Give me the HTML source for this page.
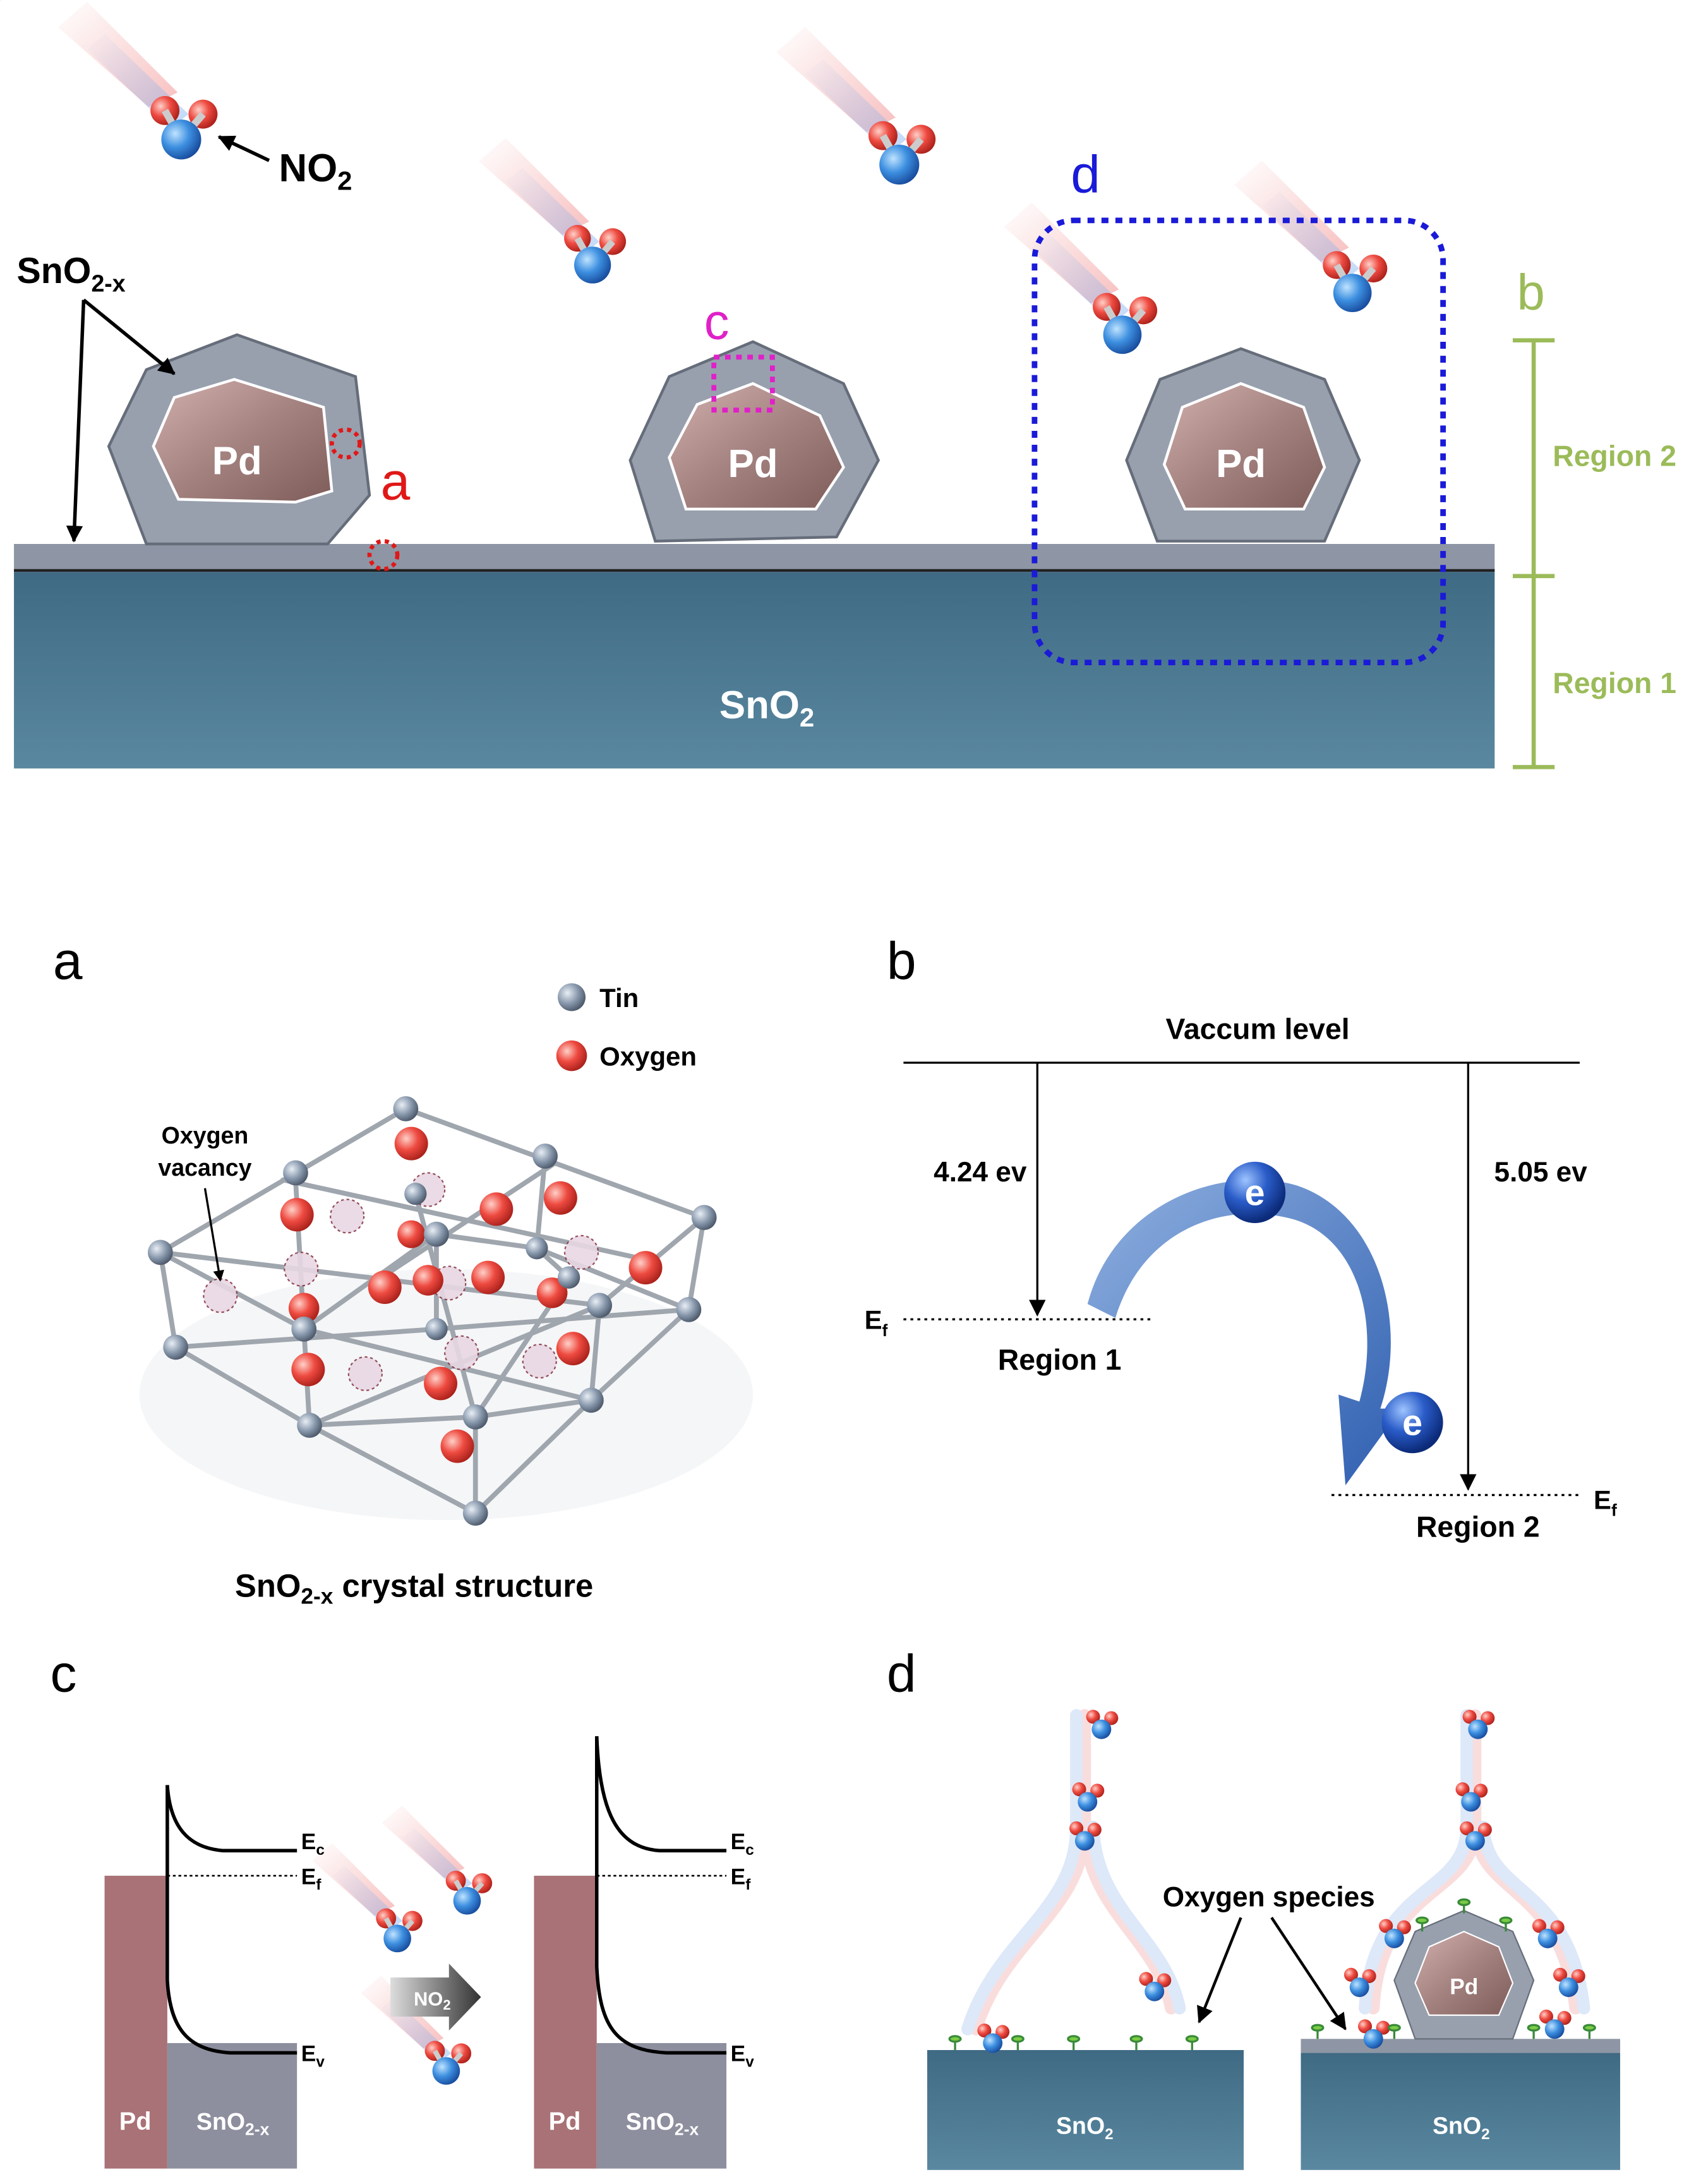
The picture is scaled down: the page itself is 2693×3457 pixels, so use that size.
<!DOCTYPE html>
<html><head><meta charset="utf-8"><style>
html,body{margin:0;padding:0;background:#fff;}
svg{display:block;}
text{font-family:"Liberation Sans",Arial,sans-serif;}
</style></head><body>
<svg width="2693" height="3457" viewBox="0 0 1220 1566" xmlns="http://www.w3.org/2000/svg">
<defs>
  <radialGradient id="bl" cx="35%" cy="35%" r="70%"><stop offset="0" stop-color="#bfe3ff"/><stop offset="0.5" stop-color="#3d8fe0"/><stop offset="1" stop-color="#174a9c"/></radialGradient>
  <radialGradient id="rd" cx="35%" cy="35%" r="70%"><stop offset="0" stop-color="#ffd0c8"/><stop offset="0.5" stop-color="#ee4a40"/><stop offset="1" stop-color="#a8201a"/></radialGradient>
  <radialGradient id="gy" cx="35%" cy="35%" r="70%"><stop offset="0" stop-color="#e8eef5"/><stop offset="0.55" stop-color="#8898ac"/><stop offset="1" stop-color="#4a5668"/></radialGradient>
  <radialGradient id="el" cx="35%" cy="30%" r="70%"><stop offset="0" stop-color="#9ec4ff"/><stop offset="0.5" stop-color="#2a5cc8"/><stop offset="1" stop-color="#0b2a78"/></radialGradient>
  <linearGradient id="sub" x1="0" y1="0" x2="0" y2="1"><stop offset="0" stop-color="#3f6a84"/><stop offset="1" stop-color="#5a88a0"/></linearGradient>
  <linearGradient id="core" x1="0" y1="0" x2="1" y2="1"><stop offset="0" stop-color="#d2b0ae"/><stop offset="0.5" stop-color="#a48280"/><stop offset="1" stop-color="#7e5c5a"/></linearGradient>
  <linearGradient id="arc" x1="0" y1="0" x2="1" y2="1"><stop offset="0" stop-color="#8fb0e0"/><stop offset="1" stop-color="#2f5fb0"/></linearGradient>
  <linearGradient id="no2a" x1="0" y1="0" x2="1" y2="0"><stop offset="0" stop-color="#ddd"/><stop offset="1" stop-color="#333"/></linearGradient>
  <linearGradient id="trR" x1="1" y1="1" x2="0" y2="0"><stop offset="0" stop-color="#f08080" stop-opacity="0.5"/><stop offset="1" stop-color="#f08080" stop-opacity="0"/></linearGradient>
  <linearGradient id="trB" x1="1" y1="1" x2="0" y2="0"><stop offset="0" stop-color="#80b0f0" stop-opacity="0.5"/><stop offset="1" stop-color="#80b0f0" stop-opacity="0"/></linearGradient>
  <g id="mol">
    <path d="M-18,-18 L-68,-62 L-52,-76 L-2,-26 Z" fill="url(#trR)"/>
    <path d="M-6,-6 L-52,-50 L-42,-58 L4,-14 Z" fill="url(#trB)"/>
    <circle cx="-9" cy="-16" r="8" fill="url(#rd)"/>
    <circle cx="12" cy="-14" r="8" fill="url(#rd)"/>
    <line x1="-9" y1="-16" x2="0" y2="0" stroke="#ccc" stroke-width="4"/><line x1="12" y1="-14" x2="0" y2="0" stroke="#ccc" stroke-width="4"/>
    <circle cx="0" cy="0" r="11" fill="url(#bl)"/>
  </g>
  <g id="smol">
    <circle cx="-6" cy="-9" r="5" fill="url(#rd)"/><circle cx="7" cy="-8" r="5" fill="url(#rd)"/>
    <circle cx="0" cy="0" r="7" fill="url(#bl)"/>
  </g>
  <marker id="ah" markerWidth="8" markerHeight="8" refX="7" refY="4" orient="auto" markerUnits="userSpaceOnUse"><path d="M0,0 L8,4 L0,8 z" fill="#000"/></marker>
  <marker id="ahb" markerWidth="12" markerHeight="12" refX="11" refY="6" orient="auto" markerUnits="userSpaceOnUse"><path d="M0,0 L12,6 L0,12 z" fill="#000"/></marker>
</defs>

<!-- ===== TOP PANEL ===== -->
<rect x="10" y="410" width="1062" height="141" fill="url(#sub)"/>
<rect x="10" y="390" width="1062" height="20" fill="#8e96a5"/>
<line x1="10" y1="409" x2="1072" y2="409" stroke="#222" stroke-width="2"/>
<path d="M170,240 L255,270 L265,355 L235,390 L105,390 L78,320 L105,265 Z" fill="#98a0ae" stroke="#666d7a" stroke-width="2"/>
<path d="M168,272 L232,292 L238,352 L212,360 L128,358 L110,320 L125,285 Z" fill="url(#core)" stroke="#fff" stroke-width="2"/>
<path d="M540,245 L605,275 L630,330 L600,385 L470,388 L452,330 L480,270 Z" fill="#98a0ae" stroke="#666d7a" stroke-width="2"/>
<path d="M540,275 L588,298 L605,335 L585,365 L492,365 L480,328 L500,290 Z" fill="url(#core)" stroke="#fff" stroke-width="2"/>
<path d="M890,250 L950,272 L975,330 L950,388 L830,388 L808,330 L832,272 Z" fill="#98a0ae" stroke="#666d7a" stroke-width="2"/>
<path d="M890,275 L935,292 L950,335 L935,365 L850,365 L835,333 L848,292 Z" fill="url(#core)" stroke="#fff" stroke-width="2"/>
<g font-weight="bold" font-size="28" fill="#fff" text-anchor="middle">
<text x="170" y="340">Pd</text><text x="540" y="342">Pd</text><text x="890" y="342">Pd</text>
<text x="550" y="515">SnO<tspan font-size="19" dy="6">2</tspan></text>
</g>
<use href="#mol" transform="translate(130,100) scale(1.3)"/>
<use href="#mol" transform="translate(425,190) scale(1.2)"/>
<use href="#mol" transform="translate(645,118) scale(1.3)"/>
<use href="#mol" transform="translate(805,240) scale(1.25)"/>
<use href="#mol" transform="translate(970,210) scale(1.25)"/>
<text x="200" y="130" font-weight="bold" font-size="28">NO<tspan font-size="19" dy="6">2</tspan></text>
<line x1="193" y1="115" x2="157" y2="98" stroke="#000" stroke-width="2.5" marker-end="url(#ahb)"/>
<text x="12" y="203" font-weight="bold" font-size="26">SnO<tspan font-size="17" dy="6">2-x</tspan></text>
<line x1="60" y1="215" x2="125" y2="268" stroke="#000" stroke-width="2.5" marker-end="url(#ahb)"/>
<line x1="60" y1="215" x2="53" y2="388" stroke="#000" stroke-width="2.5" marker-end="url(#ahb)"/>
<rect x="742" y="158" width="293" height="317" rx="28" fill="none" stroke="#1a1ad8" stroke-width="4" stroke-dasharray="5,5"/>
<text x="768" y="138" font-size="38" fill="#1a1ad8">d</text>
<text x="505" y="243" font-size="36" fill="#e020c8">c</text>
<rect x="512" y="256" width="42" height="38" fill="none" stroke="#e020c8" stroke-width="3.5" stroke-dasharray="4,4"/>
<text x="273" y="358" font-size="38" fill="#e01818">a</text>
<circle cx="248" cy="318" r="10" fill="none" stroke="#e01818" stroke-width="3" stroke-dasharray="3,3"/>
<circle cx="275" cy="398" r="10" fill="none" stroke="#e01818" stroke-width="3" stroke-dasharray="3,3"/>
<g stroke="#9bbb59" stroke-width="3">
<line x1="1100" y1="244" x2="1100" y2="550"/>
<line x1="1085" y1="244" x2="1115" y2="244"/><line x1="1085" y1="413" x2="1115" y2="413"/><line x1="1085" y1="550" x2="1115" y2="550"/>
</g>
<g fill="#9bbb59"><text x="1088" y="222" font-size="36">b</text>
<text x="1158" y="334" font-size="21" font-weight="bold" text-anchor="middle">Region 2</text>
<text x="1158" y="497" font-size="21" font-weight="bold" text-anchor="middle">Region 1</text></g>

<!-- ===== PANEL a ===== -->
<text x="38" y="702" font-size="38">a</text>
<circle cx="410" cy="715" r="10" fill="url(#gy)"/><text x="430" y="722" font-size="19" font-weight="bold">Tin</text>
<circle cx="410" cy="757" r="11" fill="url(#rd)"/><text x="430" y="764" font-size="19" font-weight="bold">Oxygen</text>
<ellipse cx="320" cy="1000" rx="220" ry="90" fill="#eef0f2" opacity="0.6"/>
<g stroke="#a0a6ae" stroke-width="3.5" fill="none" stroke-linecap="round">
<!-- top face -->
<path d="M291,795 L115,898 L430,936 L505,873 Z"/>
<path d="M203,846 L467,904 M398,834 L272,917 M313,885 L313,953"/>
<!-- verticals -->
<path d="M115,898 L126,966 M212,846 L218,953 L222,1022 M430,936 L424,1004 M505,873 L494,939 M391,829 L385,895 L408,916 M298,856 L341,1016 L341,1085"/>
<!-- bottom face -->
<path d="M126,966 L222,1022 L341,1085 L424,1004 L494,939 M126,966 L313,953 L494,939 M218,953 L424,1004 M222,1022 L430,936 M341,1016 L408,916 M115,898 L218,953 L313,885 L385,895 L494,939 M222,1022 L341,1016 L424,1004"/>
</g>
<g fill="#e8d8e4" stroke="#8a3a4a" stroke-width="1" stroke-dasharray="2,2" opacity="0.9">
<circle cx="307" cy="853" r="12"/><circle cx="249" cy="872" r="12"/><circle cx="216" cy="910" r="12"/><circle cx="158" cy="929" r="12"/><circle cx="322" cy="920" r="12"/><circle cx="417" cy="898" r="12"/><circle cx="262" cy="985" r="12"/><circle cx="331" cy="970" r="12"/><circle cx="387" cy="976" r="12"/>
</g>
<g>
<circle cx="295" cy="820" r="12" fill="url(#rd)"/><circle cx="213" cy="871" r="12" fill="url(#rd)"/><circle cx="356" cy="867" r="12" fill="url(#rd)"/><circle cx="402" cy="859" r="12" fill="url(#rd)"/><circle cx="295" cy="885" r="10" fill="url(#rd)"/><circle cx="276" cy="923" r="12" fill="url(#rd)"/><circle cx="307" cy="918" r="11" fill="url(#rd)"/><circle cx="350" cy="916" r="12" fill="url(#rd)"/><circle cx="218" cy="938" r="11" fill="url(#rd)"/><circle cx="463" cy="909" r="12" fill="url(#rd)"/><circle cx="396" cy="927" r="11" fill="url(#rd)"/><circle cx="221" cy="982" r="12" fill="url(#rd)"/><circle cx="316" cy="992" r="12" fill="url(#rd)"/><circle cx="411" cy="967" r="12" fill="url(#rd)"/><circle cx="328" cy="1037" r="12" fill="url(#rd)"/>
<circle cx="291" cy="795" r="9" fill="url(#gy)"/><circle cx="212" cy="841" r="9" fill="url(#gy)"/><circle cx="391" cy="829" r="9" fill="url(#gy)"/><circle cx="505" cy="873" r="9" fill="url(#gy)"/><circle cx="115" cy="898" r="9" fill="url(#gy)"/><circle cx="313" cy="885" r="9" fill="url(#gy)"/><circle cx="385" cy="895" r="8" fill="url(#gy)"/><circle cx="430" cy="936" r="9" fill="url(#gy)"/><circle cx="494" cy="939" r="9" fill="url(#gy)"/><circle cx="126" cy="966" r="9" fill="url(#gy)"/><circle cx="218" cy="953" r="9" fill="url(#gy)"/><circle cx="313" cy="953" r="8" fill="url(#gy)"/><circle cx="408" cy="916" r="8" fill="url(#gy)"/><circle cx="424" cy="1004" r="9" fill="url(#gy)"/><circle cx="222" cy="1022" r="9" fill="url(#gy)"/><circle cx="341" cy="1016" r="9" fill="url(#gy)"/><circle cx="341" cy="1085" r="9" fill="url(#gy)"/><circle cx="298" cy="856" r="8" fill="url(#gy)"/>
</g>
<text x="147" y="820" font-size="17" font-weight="bold" text-anchor="middle">Oxygen</text>
<text x="147" y="843" font-size="17" font-weight="bold" text-anchor="middle">vacancy</text>
<line x1="147" y1="852" x2="158" y2="918" stroke="#000" stroke-width="1.5" marker-end="url(#ah)"/>
<text x="297" y="1145" font-size="23" font-weight="bold" text-anchor="middle">SnO<tspan font-size="16" dy="5">2-x</tspan><tspan dy="-5"> crystal structure</tspan></text>

<!-- ===== PANEL b ===== -->
<text x="636" y="702" font-size="38">b</text>
<text x="902" y="745" font-size="21" font-weight="bold" text-anchor="middle">Vaccum level</text>
<line x1="648" y1="762" x2="1133" y2="762" stroke="#000" stroke-width="1.5"/>
<line x1="744" y1="762" x2="744" y2="943" stroke="#000" stroke-width="1.5" marker-end="url(#ahb)"/>
<line x1="1053" y1="762" x2="1053" y2="1068" stroke="#000" stroke-width="1.5" marker-end="url(#ahb)"/>
<text x="703" y="847" font-size="20" font-weight="bold" text-anchor="middle">4.24 ev</text>
<text x="1105" y="847" font-size="20" font-weight="bold" text-anchor="middle">5.05 ev</text>
<line x1="648" y1="946" x2="825" y2="946" stroke="#000" stroke-width="1.5" stroke-dasharray="2,3"/>
<line x1="955" y1="1072" x2="1135" y2="1072" stroke="#000" stroke-width="1.5" stroke-dasharray="2,3"/>
<text x="620" y="953" font-size="19" font-weight="bold">E<tspan font-size="12" dy="5">f</tspan></text>
<text x="1143" y="1082" font-size="19" font-weight="bold">E<tspan font-size="12" dy="5">f</tspan></text>
<text x="760" y="982" font-size="21" font-weight="bold" text-anchor="middle">Region 1</text>
<text x="1060" y="1102" font-size="21" font-weight="bold" text-anchor="middle">Region 2</text>
<path d="M780,935 C800,860 880,835 930,850 C990,870 1010,950 990,1010 L1005,1010 L965,1065 L960,1000 L975,1005 C990,950 975,890 930,875 C880,860 820,880 800,945 Z" fill="url(#arc)"/>
<circle cx="900" cy="855" r="22" fill="url(#el)"/><text x="900" y="864" font-size="26" fill="#fff" font-weight="bold" text-anchor="middle">e</text>
<circle cx="1013" cy="1020" r="22" fill="url(#el)"/><text x="1013" y="1029" font-size="26" fill="#fff" font-weight="bold" text-anchor="middle">e</text>

<!-- ===== PANEL c ===== -->
<text x="36" y="1213" font-size="38">c</text>
<g>
<rect x="75" y="1345" width="45" height="210" fill="#a97276"/>
<rect x="120" y="1465" width="93" height="90" fill="#8d8e9e"/>
<path d="M120,1280 C122,1310 135,1325 160,1327 L213,1327" stroke="#000" stroke-width="2.5" fill="none"/>
<path d="M120,1280 L120,1420 C122,1455 135,1470 165,1472 L213,1472" stroke="#000" stroke-width="2.5" fill="none"/>
<line x1="120" y1="1345" x2="213" y2="1345" stroke="#000" stroke-width="1.2" stroke-dasharray="2,2"/>
<text x="97" y="1527" font-size="18" font-weight="bold" fill="#fff" text-anchor="middle">Pd</text>
<text x="167" y="1527" font-size="17" font-weight="bold" fill="#fff" text-anchor="middle">SnO<tspan font-size="12" dy="4">2-x</tspan></text>
<text x="216" y="1326" font-size="16" font-weight="bold">E<tspan font-size="11" dy="4">c</tspan></text>
<text x="216" y="1351" font-size="16" font-weight="bold">E<tspan font-size="11" dy="4">f</tspan></text>
<text x="216" y="1478" font-size="16" font-weight="bold">E<tspan font-size="11" dy="4">v</tspan></text>
</g>
<g transform="translate(308,0)">
<rect x="75" y="1345" width="45" height="210" fill="#a97276"/>
<rect x="120" y="1465" width="93" height="90" fill="#8d8e9e"/>
<path d="M120,1245 C122,1300 135,1325 165,1327 L213,1327" stroke="#000" stroke-width="2.5" fill="none"/>
<path d="M120,1245 L120,1410 C122,1455 135,1470 170,1472 L213,1472" stroke="#000" stroke-width="2.5" fill="none"/>
<line x1="120" y1="1345" x2="213" y2="1345" stroke="#000" stroke-width="1.2" stroke-dasharray="2,2"/>
<text x="97" y="1527" font-size="18" font-weight="bold" fill="#fff" text-anchor="middle">Pd</text>
<text x="167" y="1527" font-size="17" font-weight="bold" fill="#fff" text-anchor="middle">SnO<tspan font-size="12" dy="4">2-x</tspan></text>
<text x="216" y="1326" font-size="16" font-weight="bold">E<tspan font-size="11" dy="4">c</tspan></text>
<text x="216" y="1351" font-size="16" font-weight="bold">E<tspan font-size="11" dy="4">f</tspan></text>
<text x="216" y="1478" font-size="16" font-weight="bold">E<tspan font-size="11" dy="4">v</tspan></text>
</g>
<use href="#mol" transform="translate(285,1390) scale(0.9)"/>
<use href="#mol" transform="translate(335,1363) scale(0.9)"/>
<use href="#mol" transform="translate(320,1485) scale(0.9)"/>
<path d="M280,1418 L322,1418 L322,1408 L345,1432 L322,1456 L322,1446 L280,1446 Z" fill="url(#no2a)"/>
<text x="310" y="1438" font-size="14" font-weight="bold" fill="#fff" text-anchor="middle">NO<tspan font-size="10" dy="3">2</tspan></text>

<!-- ===== PANEL d ===== -->
<text x="636" y="1213" font-size="38">d</text>
<rect x="665" y="1470" width="227" height="86" fill="url(#sub)"/>
<text x="778" y="1530" font-size="17" font-weight="bold" fill="#fff" text-anchor="middle">SnO<tspan font-size="11" dy="4">2</tspan></text>
<rect x="933" y="1472" width="229" height="84" fill="url(#sub)"/>
<rect x="933" y="1462" width="229" height="10" fill="#8e96a5"/>
<text x="1048" y="1530" font-size="17" font-weight="bold" fill="#fff" text-anchor="middle">SnO<tspan font-size="11" dy="4">2</tspan></text>
<g stroke-width="9" fill="none" opacity="0.35" stroke-linecap="round">
<path d="M778,1230 L778,1310 C778,1370 720,1390 700,1455" stroke="#f0a0a0"/><path d="M778,1310 C780,1370 830,1390 840,1440" stroke="#f0a0a0"/>
<path d="M772,1230 L772,1310 C772,1370 714,1390 694,1455" stroke="#a0c0f0"/><path d="M784,1310 C786,1370 836,1390 846,1440" stroke="#a0c0f0"/>
<path d="M1058,1230 L1058,1310 C1058,1360 990,1350 985,1440" stroke="#f0a0a0"/><path d="M1058,1310 C1060,1360 1120,1350 1130,1440" stroke="#f0a0a0"/>
<path d="M1052,1230 L1052,1310 C1052,1360 984,1350 979,1440" stroke="#a0c0f0"/><path d="M1064,1310 C1066,1360 1126,1350 1136,1440" stroke="#a0c0f0"/>
</g>
<path d="M1050,1370 L1085,1385 L1100,1420 L1085,1462 L1015,1462 L1000,1420 L1015,1385 Z" fill="#98a0ae" stroke="#666d7a"/>
<path d="M1050,1385 L1075,1396 L1085,1422 L1075,1445 L1025,1445 L1015,1422 L1025,1396 Z" fill="url(#core)" stroke="#fff"/>
<text x="1050" y="1430" font-size="16" font-weight="bold" fill="#fff" text-anchor="middle">Pd</text>
<use href="#smol" transform="translate(790,1240)"/><use href="#smol" transform="translate(780,1292)"/><use href="#smol" transform="translate(778,1320)"/>
<use href="#smol" transform="translate(712,1465)"/><use href="#smol" transform="translate(828,1428)"/>
<use href="#smol" transform="translate(1060,1240)"/><use href="#smol" transform="translate(1055,1292)"/><use href="#smol" transform="translate(1058,1320)"/>
<use href="#smol" transform="translate(1000,1390)"/><use href="#smol" transform="translate(985,1462)"/><use href="#smol" transform="translate(1110,1390)"/><use href="#smol" transform="translate(1125,1425)"/><use href="#smol" transform="translate(975,1425)"/><use href="#smol" transform="translate(1115,1455)"/>
<g stroke="#3a8a3a" stroke-width="1.5" fill="#7acc44">
<g id="osp"><line x1="0" y1="0" x2="0" y2="-7"/><ellipse cx="0" cy="-8" rx="4" ry="2"/></g>
<use href="#osp" transform="translate(685,1470)"/><use href="#osp" transform="translate(730,1470)"/><use href="#osp" transform="translate(770,1470)"/><use href="#osp" transform="translate(815,1470)"/><use href="#osp" transform="translate(855,1470)"/>
<use href="#osp" transform="translate(945,1462)"/><use href="#osp" transform="translate(1000,1462)"/><use href="#osp" transform="translate(1100,1462)"/><use href="#osp" transform="translate(1140,1462)"/>
<use href="#osp" transform="translate(1020,1385)"/><use href="#osp" transform="translate(1050,1372)"/><use href="#osp" transform="translate(1080,1385)"/>
</g>
<text x="910" y="1367" font-size="20" font-weight="bold" text-anchor="middle">Oxygen species</text>
<line x1="890" y1="1375" x2="860" y2="1450" stroke="#000" stroke-width="2" marker-end="url(#ahb)"/>
<line x1="912" y1="1375" x2="965" y2="1455" stroke="#000" stroke-width="2" marker-end="url(#ahb)"/>
</svg>
</body></html>
